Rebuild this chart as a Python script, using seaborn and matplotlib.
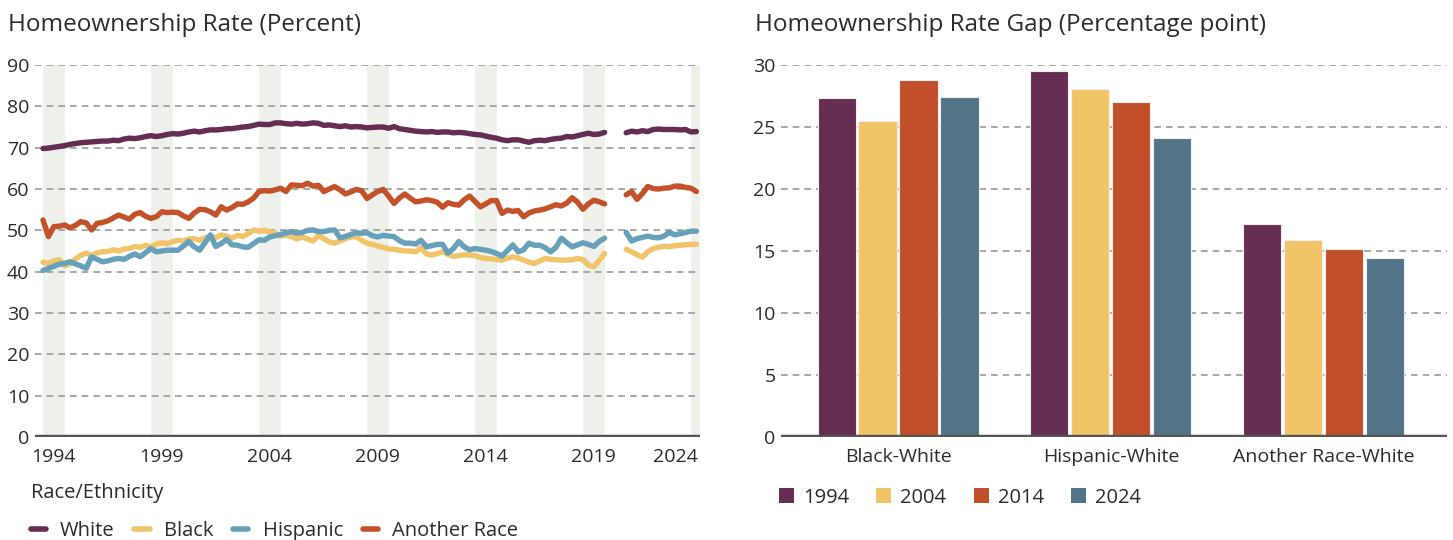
import numpy as np
import pandas as pd
import matplotlib.pyplot as plt
import seaborn as sns
from matplotlib.lines import Line2D
from matplotlib.patches import Patch

# --- quarterly homeownership rate, 1994Q1 .. 2024Q2 (2020Q2-Q4 not shown) ---
NAN = np.nan
WHITE = [
    69.8, 69.9, 70.1, 70.3, 70.5, 70.8, 71.0, 71.2, 71.3, 71.4, 71.5, 71.6,
    71.6, 71.8, 71.7, 72.1, 72.3, 72.2, 72.4, 72.7, 72.9, 72.7, 72.9, 73.2,
    73.4, 73.3, 73.5, 73.8, 74.0, 73.8, 74.1, 74.3, 74.3, 74.4, 74.6, 74.6,
    74.8, 75.0, 75.1, 75.4, 75.7, 75.6, 75.6, 76.0, 76.0, 75.8, 75.7, 75.9,
    75.7, 75.8, 76.0, 75.9, 75.4, 75.5, 75.3, 75.1, 75.3, 75.0, 75.1, 75.0,
    74.8, 74.9, 75.0, 75.0, 74.7, 75.1, 74.6, 74.4, 74.2, 74.0, 73.9, 73.8,
    73.9, 73.7, 73.8, 73.8, 73.6, 73.7, 73.6, 73.4, 73.2, 73.1, 72.8, 72.5,
    72.3, 71.9, 71.7, 71.9, 71.9, 71.6, 71.3, 71.7, 71.8, 71.7, 72.0, 72.2,
    72.3, 72.7, 72.6, 72.9, 73.2, 73.5, 73.2, 73.3, 73.7, NAN, NAN, NAN,
    73.6, 74.0, 73.8, 74.1, 73.9, 74.4, 74.5, 74.4, 74.4, 74.4, 74.3, 74.4,
    73.8, 73.9,
]
BLACK = [
    42.3, 42.0, 42.6, 42.9, 41.4, 41.9, 43.0, 44.0, 44.5, 43.9, 44.6, 44.8,
    44.9, 45.3, 45.0, 45.5, 45.6, 46.1, 45.9, 46.4, 46.0, 46.7, 47.0, 46.8,
    47.3, 47.6, 47.4, 47.9, 48.0, 47.6, 48.2, 48.5, 48.2, 48.9, 48.6, 48.1,
    48.8, 48.5, 49.2, 50.1, 49.8, 50.0, 49.6, 49.3, 48.6, 48.8, 48.5, 47.9,
    48.4, 47.9, 47.4, 48.8, 48.0, 47.2, 46.9, 47.4, 48.0, 48.4, 48.5, 47.6,
    46.9, 46.6, 46.2, 45.9, 45.5, 45.4, 45.2, 45.0, 45.0, 44.8, 45.8, 44.3,
    44.0, 44.4, 44.8, 44.2, 43.7, 43.9, 44.1, 44.0, 43.9, 43.4, 43.2, 43.1,
    42.9, 42.8, 43.3, 43.6, 43.3, 42.8, 42.3, 42.0, 42.6, 43.2, 43.0, 42.9,
    42.8, 42.8, 42.9, 43.2, 42.9, 41.6, 41.2, 42.7, 44.4, NAN, NAN, NAN,
    45.4, 44.8, 44.1, 43.5, 44.8, 45.6, 45.9, 46.2, 46.0, 46.3, 46.4, 46.5,
    46.6, 46.6,
]
HISPANIC = [
    40.3, 40.8, 41.3, 41.8, 42.0, 42.4, 41.9, 41.4, 40.8, 43.6, 43.0, 42.4,
    42.6, 43.0, 43.2, 43.0, 43.7, 44.3, 43.6, 44.6, 45.6, 44.8, 45.0, 45.2,
    45.2, 45.2, 46.2, 47.3, 46.0, 45.2, 47.0, 48.9, 46.1, 46.8, 47.8, 46.5,
    46.4, 46.0, 45.9, 46.8, 47.7, 47.6, 48.4, 48.7, 49.0, 49.4, 49.7, 49.3,
    49.5, 50.0, 50.1, 49.7, 49.7, 50.0, 50.1, 48.2, 48.5, 49.0, 49.4, 49.3,
    49.4, 48.7, 48.4, 48.8, 48.6, 48.5, 47.5, 46.9, 46.9, 46.7, 47.6, 46.0,
    46.3, 46.6, 46.6, 44.5, 45.6, 47.3, 46.0, 45.3, 45.6, 45.4, 45.2, 44.9,
    44.4, 43.8, 45.1, 46.5, 44.8, 45.3, 46.9, 46.4, 46.4, 45.8, 44.8, 45.9,
    48.1, 47.0, 46.0, 46.5, 47.0, 46.6, 46.1, 47.3, 48.1, NAN, NAN, NAN,
    49.5, 47.4, 48.0, 48.3, 48.6, 48.3, 48.2, 48.6, 49.5, 48.9, 49.2, 49.5,
    49.8, 49.8,
]
ANOTHER = [
    52.5, 48.5, 50.9, 51.0, 51.3, 50.6, 51.2, 52.1, 51.8, 50.1, 51.7, 51.9,
    52.3, 53.0, 53.7, 53.2, 52.7, 53.9, 54.3, 53.4, 52.9, 53.3, 54.5, 54.3,
    54.4, 54.3, 53.5, 52.9, 54.2, 55.1, 55.0, 54.5, 53.7, 55.7, 54.9, 55.5,
    56.4, 56.3, 56.9, 57.8, 59.4, 59.6, 59.5, 59.8, 60.2, 59.4, 61.0, 60.9,
    60.8, 61.4, 60.7, 60.9, 59.4, 60.0, 60.6, 59.8, 58.8, 59.3, 59.9, 59.6,
    57.7, 58.6, 59.4, 59.9, 58.3, 56.5, 57.8, 58.8, 57.8, 56.9, 57.1, 57.4,
    57.2, 56.8, 55.6, 56.7, 56.3, 56.1, 57.4, 58.3, 57.0, 55.7, 56.4, 57.2,
    57.2, 54.1, 54.9, 54.6, 54.8, 53.3, 54.2, 54.7, 54.9, 55.2, 55.7, 56.2,
    55.9, 56.6, 57.9, 56.8, 55.1, 56.4, 57.3, 56.9, 56.4, NAN, NAN, NAN,
    58.6, 59.4, 57.5, 58.9, 60.6, 60.1, 60.0, 60.2, 60.3, 60.7, 60.7, 60.4,
    60.2, 59.4,
]
RACES = ["White", "Black", "Hispanic", "Another Race"]
LINE_COLORS = ["#652D52", "#F2C46A", "#66A0BA", "#C3522B"]

# --- homeownership rate gap (percentage points) ---
GAP_GROUPS = ["Black-White", "Hispanic-White", "Another Race-White"]
GAP_YEARS = ["1994", "2004", "2014", "2024"]
GAP_1994 = [27.3, 29.5, 17.2]
GAP_2004 = [25.5, 28.1, 15.9]
GAP_2014 = [28.8, 27.0, 15.2]
GAP_2024 = [27.4, 24.1, 14.4]
BAR_COLORS = ["#652D52", "#F2C46A", "#C1502A", "#517587"]

SHADE_YEARS = [1994, 1999, 2004, 2009, 2014, 2019, 2024]
TICK_LABELS = ["1994", "1999", "2004", "2009", "2014", "2019", "2024"]

TEXT = "#2b2b2b"
GRID = "#9b9b93"
AXIS = "#555555"
FONT = ["Open Sans", "DejaVu Sans"]

sns.set_theme(style="white")
plt.rcParams["font.family"] = FONT
plt.rcParams["text.color"] = TEXT


def quarterly_frame():
    n = len(WHITE)
    years = np.repeat(np.arange(1994, 2025), 4)[:n]
    quarter = np.tile(np.arange(4), 31)[:n]
    x = years + quarter / 4
    frames = []
    for race, vals in zip(RACES, [WHITE, BLACK, HISPANIC, ANOTHER]):
        frames.append(pd.DataFrame({"x": x, "rate": vals, "race": race,
                                    "segment": np.where(x < 2020.5, 0, 1)}))
    df = pd.concat(frames, ignore_index=True)
    return df.dropna()


def style_axis(ax, top):
    for s in ax.spines.values():
        s.set_visible(False)
    ax.yaxis.grid(True, linestyle=(0, (4, 3)), color=GRID, linewidth=1.2)
    ax.xaxis.grid(False)
    ax.set_axisbelow(True)
    ax.axhline(0, color=AXIS, linewidth=3.2, zorder=4, solid_capstyle="butt")
    ax.tick_params(axis="both", length=0, labelsize=14, colors=TEXT)
    ax.tick_params(axis="y", pad=4)
    ax.tick_params(axis="x", pad=8)
    ax.set_ylim(0, top)
    ax.set_xlabel("")
    ax.set_ylabel("")


fig = plt.figure(figsize=(14.53, 5.4), dpi=100)
ax1 = fig.add_axes([0.0241, 0.1907, 0.4577, 0.6889])
ax2 = fig.add_axes([0.5375, 0.1907, 0.4584, 0.6889])

# left: time series
for y in SHADE_YEARS:
    ax1.axvspan(y, y + 1, color="#EEF0EC", zorder=0, linewidth=0)

df_lines = quarterly_frame()
sns.lineplot(data=df_lines, x="x", y="rate", hue="race", units="segment",
             estimator=None, palette=dict(zip(RACES, LINE_COLORS)),
             hue_order=RACES, linewidth=3.9, legend=False, ax=ax1)
for line in ax1.get_lines():
    line.set_solid_capstyle("round")
    line.set_solid_joinstyle("round")

style_axis(ax1, 90)
ax1.set_xlim(1993.63, 2024.42)
ax1.set_yticks(range(0, 91, 10))
ax1.set_xticks([y + 0.5 for y in SHADE_YEARS[:-1]] + [2023.3])
ax1.set_xticklabels(TICK_LABELS)

line_handles = [Line2D([0], [0], color=c, lw=4, solid_capstyle="round")
                for c in LINE_COLORS]
fig.legend(line_handles, RACES, title="Race/Ethnicity",
           loc="upper left", bbox_to_anchor=(0.021, 0.105), ncol=4,
           frameon=False, fontsize=14.5, title_fontsize=14.5,
           handlelength=0.75, handletextpad=0.7, columnspacing=1.0,
           alignment="left", borderaxespad=0, borderpad=0, labelspacing=0.9)

# right: gap bars
df_gap = pd.DataFrame({
    "group": GAP_GROUPS * 4,
    "year": np.repeat(GAP_YEARS, len(GAP_GROUPS)),
    "gap": GAP_1994 + GAP_2004 + GAP_2014 + GAP_2024,
})
sns.barplot(data=df_gap, x="group", y="gap", hue="year", order=GAP_GROUPS,
            hue_order=GAP_YEARS, palette=BAR_COLORS, saturation=1,
            width=0.77, gap=0.07, edgecolor="#f3eded", linewidth=0.8,
            legend=False, ax=ax2)
style_axis(ax2, 30)
ax2.set_xlim(-0.55, 2.58)
ax2.set_yticks(range(0, 31, 5))

bar_handles = [Patch(facecolor=c, edgecolor="none") for c in BAR_COLORS]
fig.legend(bar_handles, GAP_YEARS, loc="upper left",
           bbox_to_anchor=(0.536, 0.097), ncol=4, frameon=False,
           fontsize=14.5, handlelength=0.75, handleheight=0.75,
           handletextpad=0.45, columnspacing=1.35, borderaxespad=0,
           borderpad=0)

fig.text(0.0055, 1 - 25 / 540, "Homeownership Rate (Percent)", fontsize=17.5,
         va="center", ha="left")
fig.text(0.5195, 1 - 25 / 540, "Homeownership Rate Gap (Percentage point)",
         fontsize=17.5, va="center", ha="left")

fig.savefig("out.png", dpi=100)
